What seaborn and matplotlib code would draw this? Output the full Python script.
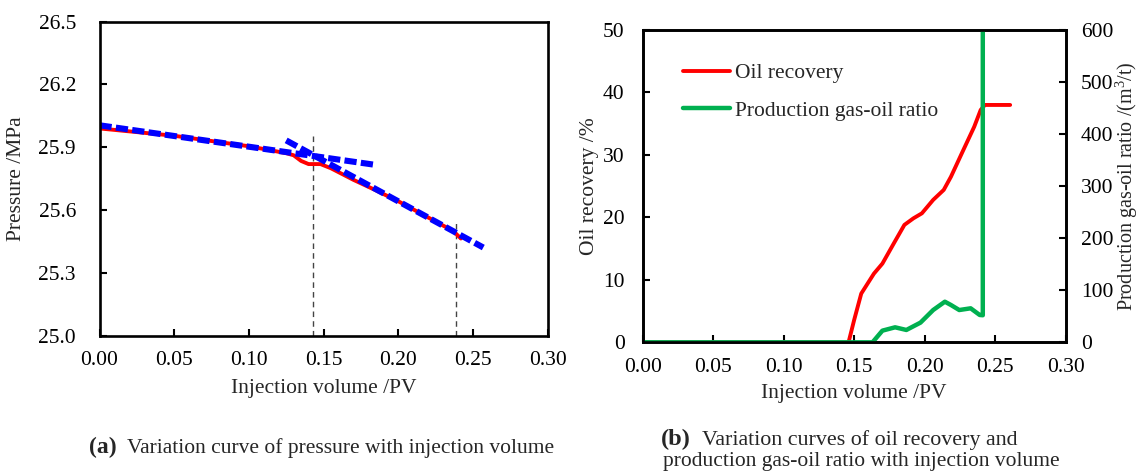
import numpy as np
import pandas as pd
import matplotlib
matplotlib.use("Agg")
import matplotlib.pyplot as plt
import seaborn as sns

# ---------------- data ----------------
# (a) pressure vs injection volume
pv_pressure = [0.0, 0.05, 0.10, 0.125, 0.130, 0.135, 0.140, 0.148, 0.155, 0.170,
               0.185, 0.200, 0.215, 0.230, 0.237, 0.242]
pressure = [25.99, 25.955, 25.905, 25.872, 25.862, 25.835, 25.82, 25.82, 25.80, 25.745,
            25.695, 25.643, 25.585, 25.527, 25.50, 25.465]

# fitted dashed trend lines
fit1_pv = [0.0, 0.184]
fit1_p = [26.005, 25.817]
fit2_pv = [0.125, 0.257]
fit2_p = [25.933, 25.422]

# vertical marker lines (x, top value)
vline_x = [0.143, 0.239]
vline_top = [25.975, 25.552]

# (b) oil recovery and production GOR
pv_rec = [0.0, 0.146, 0.150, 0.155, 0.164, 0.170, 0.178, 0.1856, 0.192, 0.198,
          0.206, 0.2135, 0.2186, 0.2263, 0.2351, 0.2397, 0.2427, 0.2606]
oil_recovery = [0.0, 0.0, 3.6, 7.8, 11.0, 12.6, 15.8, 18.8, 19.85, 20.65,
                22.8, 24.4, 26.5, 30.25, 34.5, 37.2, 38.0, 38.0]

pv_gor = [0.0, 0.163, 0.170, 0.179, 0.187, 0.197, 0.206, 0.2143, 0.2186, 0.2245,
          0.2326, 0.239, 0.2412, 0.2412]
gor = [0.0, 0.0, 22.4, 28.8, 23.7, 37.8, 62.0, 78.0, 71.7, 62.0,
       65.3, 52.5, 52.0, 600.0]

xticks = [0.00, 0.05, 0.10, 0.15, 0.20, 0.25, 0.30]
p_ticks = [25.0, 25.3, 25.6, 25.9, 26.2, 26.5]
rec_ticks = [0, 10, 20, 30, 40, 50]
gor_ticks = [0, 100, 200, 300, 400, 500, 600]

# ---------------- style ----------------
sns.set_style("ticks")
plt.rcParams["font.family"] = ["Liberation Serif", "DejaVu Serif"]
plt.rcParams["mathtext.fontset"] = "custom"
plt.rcParams["mathtext.rm"] = "Liberation Serif"
FS = 15.5

fig = plt.figure(figsize=(11.42, 4.73), dpi=100)
W, H = 1142, 473
axA = fig.add_axes([99.5 / W, 1 - 336 / H, (547.5 - 99.5) / W, (336 - 21.5) / H])
axB = fig.add_axes([642.7 / W, 1 - 342.3 / H, (1065.7 - 642.7) / W, (342.3 - 30) / H])


def style_axes(ax, pad_x=10, pad_y=10):
    for s in ax.spines.values():
        s.set_linewidth(1.9)
        s.set_color("black")
    ax.tick_params(direction="in", length=5, width=1.5, labelsize=FS, colors="black")
    ax.tick_params(axis="x", pad=pad_x)
    ax.tick_params(axis="y", pad=pad_y)


# ---------------- panel (a) ----------------
dfA = pd.DataFrame({"pv": pv_pressure, "p": pressure})
sns.lineplot(data=dfA, x="pv", y="p", ax=axA, color="#ff0000", lw=2.8,
             sort=False, estimator=None)
for xv, top in zip(vline_x, vline_top):
    axA.plot([xv, xv], [p_ticks[0], top], color="#444444", lw=1.0,
             linestyle=(0, (4, 3)), zorder=1)
for fx, fy in ((fit1_pv, fit1_p), (fit2_pv, fit2_p)):
    sns.lineplot(x=fx, y=fy, ax=axA, color="#0000ff", lw=4.4,
                 linestyle=(0, (2.0, 0.7)), sort=False, estimator=None)
axA.set_xlim(0, 0.30)
axA.set_ylim(25.0, 26.5)
axA.set_xticks(xticks)
axA.set_xticklabels([f"{v:.2f}" for v in xticks])
axA.set_yticks(p_ticks)
axA.set_yticklabels([f"{v:.1f}" for v in p_ticks])
axA.set_xlabel("Injection volume /PV", fontsize=FS, labelpad=6)
axA.set_ylabel("Pressure /MPa", fontsize=FS, labelpad=9)
style_axes(axA, pad_x=11, pad_y=17)

# ---------------- panel (b) ----------------
dfR = pd.DataFrame({"pv": pv_rec, "rec": oil_recovery})
dfG = pd.DataFrame({"pv": pv_gor, "gor": gor})
sns.lineplot(data=dfR, x="pv", y="rec", ax=axB, color="#ff0000", lw=2.8,
             sort=False, estimator=None, label="Oil recovery", legend=False)
axB2 = axB.twinx()
sns.lineplot(data=dfG, x="pv", y="gor", ax=axB2, color="#00b050", lw=3.2,
             sort=False, estimator=None, label="Production gas-oil ratio", legend=False)
axB.set_xlim(0, 0.30)
axB.set_ylim(0, 50)
axB2.set_ylim(0, 600)
axB.set_xticks(xticks)
axB.set_xticklabels([f"{v:.2f}" for v in xticks])
axB.set_yticks(rec_ticks)
axB2.set_yticks(gor_ticks)
axB.set_xlabel("Injection volume /PV", fontsize=FS, labelpad=5)
axB.set_ylabel("Oil recovery /%", fontsize=FS, labelpad=3)
axB2.set_ylabel("Production gas-oil ratio /(m$^3$/t)", fontsize=14.5, labelpad=0)
style_axes(axB, pad_x=11, pad_y=13)
style_axes(axB2, pad_x=11, pad_y=11)

h1, l1 = axB.get_legend_handles_labels()
h2, l2 = axB2.get_legend_handles_labels()
axB2.legend(h1 + h2, l1 + l2, loc="upper left", bbox_to_anchor=(0.05, 0.955),
            frameon=False, fontsize=FS, handlelength=2.15, handletextpad=0.25,
            labelspacing=0.8)

# ---------------- captions ----------------
fig.text(89 / W, 1 - 453 / H, "(a)", fontsize=17, fontweight="bold", va="baseline", ha="left")
fig.text(127 / W, 1 - 453 / H, "Variation curve of pressure with injection volume",
         fontsize=15.5, va="baseline", ha="left")
fig.text(661 / W, 1 - 445 / H, "(b)", fontsize=17.5, fontweight="bold", va="baseline", ha="left")
fig.text(702 / W, 1 - 445 / H, "Variation curves of oil recovery and",
         fontsize=15.8, va="baseline", ha="left")
fig.text(861 / W, 1 - 466 / H, "production gas-oil ratio with injection volume",
         fontsize=15.5, va="baseline", ha="center")

fig.savefig("out.png", dpi=100)
